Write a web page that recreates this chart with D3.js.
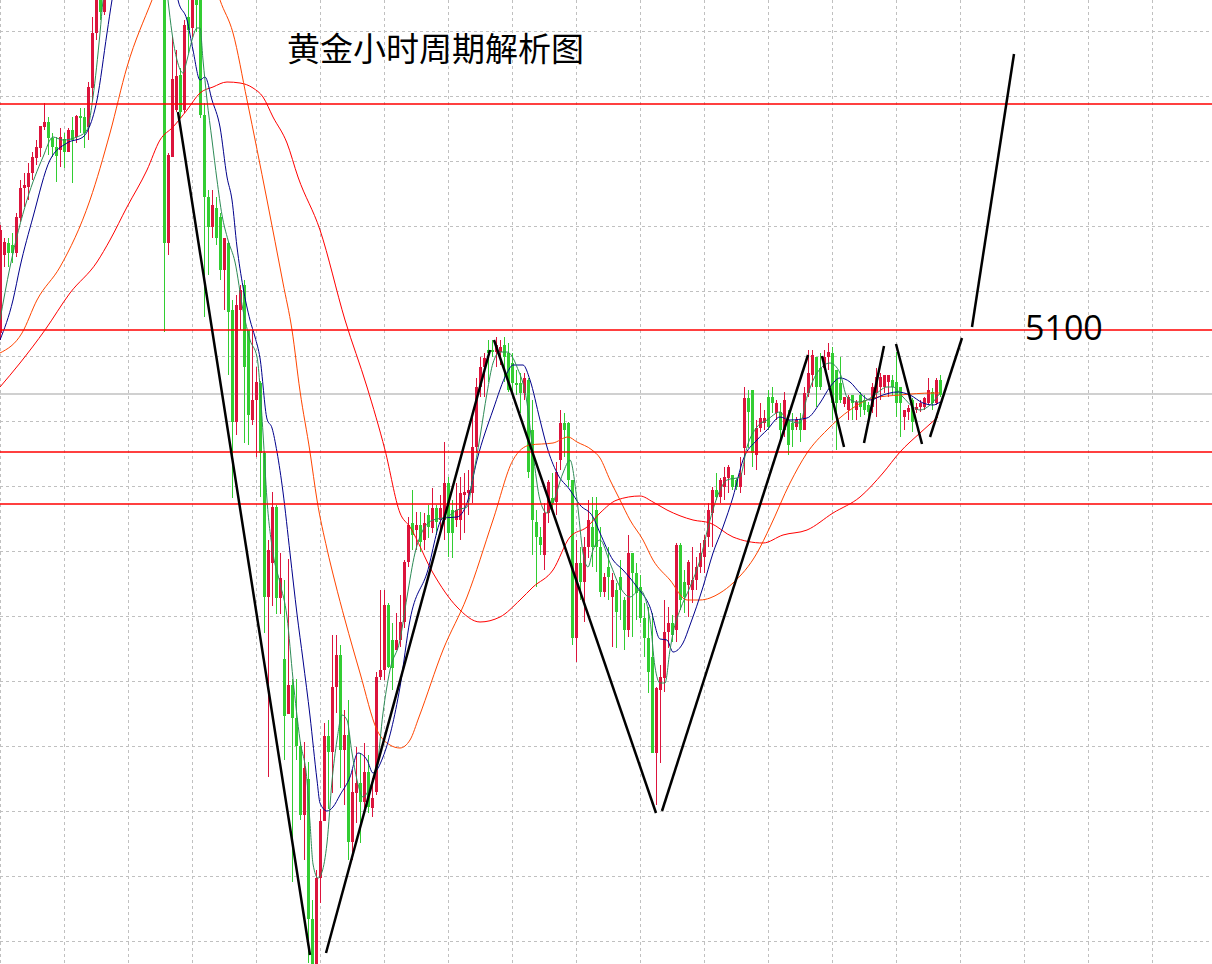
<!DOCTYPE html>
<html>
<head>
<meta charset="utf-8">
<script src="https://cdn.jsdelivr.net/npm/d3@7"></script>
<style>
html,body{margin:0;padding:0;background:#fff;overflow:hidden;}
svg{display:block;}
</style>
</head>
<body>
<svg id="chart" width="1212" height="964"></svg>
<script>
// ---------------- DATA ----------------
const title = "黄金小时周期解析图";
const levelLabel = "5100";

// hourly candles (index 0..235)
const opens = [5097,5175,5187,5185,5177,5212,5242,5243,5257,5272,5282,5303,5308,5292,5283,5280,5291,5278,5300,5293,
5314,5313,5303,5342,5397,5450,5418,5470,5510,5540,5520,5560,5590,5570,5610,5580,5550,5580,5540,5510,
5530,5490,5187,5273,5320,5355,5320,5413,5402,5435,5430,5315,5233,5203,5222,5213,5160,5187,5120,5008,
5120,5145,5100,5010,5030,5047,4977,4833,4867,4923,4832,4771,4716,4745,4712,4684,4615,4651,4511,4445,
4552,4609,4694,4678,4743,4775,4680,4695,4588,4637,4647,4628,4658,4622,4638,4753,4760,4825,4790,4780,
4790,4808,4868,4907,4900,4905,4890,4915,4902,4922,4910,4910,4947,4920,4910,4910,4935,4937,4937,4983,
5043,5063,5080,5080,5078,5078,5085,5077,5067,5047,5047,5037,5050,5000,4908,4893,4875,4917,4932,4928,
4970,5007,5007,4950,4792,4867,4848,4883,4903,4920,4883,4838,4863,4833,4840,4853,4830,4800,4877,4857,
4843,4812,4792,4773,4677,4740,4752,4798,4807,4800,4885,4848,4845,4840,4850,4863,4873,4893,4917,4940,
4933,4943,4952,4955,4950,4943,4982,5032,5040,4975,5002,5007,5033,5033,5017,5018,5000,5010,5007,5003,
5010,5000,5037,5055,5073,5062,5062,5073,5077,5060,5047,5026,5020,5035,5020,5035,5030,5025,5023,5037,
5043,5043,5048,5050,5048,5043,5013,5018,5030,5020,5023,5023,5027,5038,5027,5050];
const highs = [5205,5192,5192,5197,5217,5250,5257,5267,5278,5290,5304,5327,5313,5297,5293,5302,5297,5302,5313,5315,
5322,5322,5348,5413,5460,5465,5480,5520,5555,5560,5570,5605,5610,5625,5630,5600,5595,5590,5555,5545,
5540,5500,5277,5393,5380,5362,5410,5435,5450,5450,5440,5327,5240,5240,5233,5217,5192,5188,5130,5135,
5145,5150,5100,5100,5063,5049,4978,4890,4938,4925,4877,4850,4871,4751,4751,4688,4688,4668,4530,4560,
4621,4707,4710,4795,4795,4785,4720,4730,4660,4683,4677,4687,4675,4652,4758,4840,4840,4827,4807,4817,
4835,4870,4913,4940,4918,4918,4917,4925,4942,4925,4935,4988,4953,4930,4947,4953,4957,4960,5013,5052,
5073,5077,5090,5090,5093,5090,5093,5087,5077,5060,5057,5057,5052,5030,4920,4903,4927,4950,4957,4968,
5020,5017,5008,4950,4890,4883,4893,4930,4933,4933,4903,4857,4883,4857,4847,4870,4833,4895,4877,4867,
4855,4827,4823,4817,4743,4765,4830,4823,4815,4887,4887,4860,4870,4883,4873,4887,4895,4927,4943,4957,
4952,4963,4965,4955,4952,4973,5043,5040,5040,5010,5027,5020,5040,5043,5030,5027,5038,5020,5017,5013,
5017,5043,5080,5080,5073,5077,5080,5087,5083,5060,5073,5033,5035,5035,5030,5038,5035,5028,5047,5062,
5057,5055,5055,5055,5078,5043,5020,5025,5032,5027,5030,5033,5052,5042,5052,5055];
const lows = [5090,5163,5163,5167,5173,5208,5223,5230,5250,5265,5273,5300,5275,5273,5248,5263,5262,5278,5247,5287,
5297,5282,5290,5330,5390,5410,5415,5465,5500,5510,5515,5550,5560,5560,5570,5540,5540,5530,5500,5500,
5480,5098,5175,5273,5318,5312,5317,5377,5393,5398,5312,5113,5155,5192,5185,5150,5120,5055,4932,4995,
5100,4987,4985,5005,4973,4933,4797,4653,4824,4816,4816,4670,4716,4548,4670,4610,4570,4467,4440,4435,
4527,4609,4621,4637,4717,4642,4625,4570,4570,4607,4587,4622,4617,4613,4635,4750,4750,4762,4740,4780,
4783,4802,4863,4880,4880,4878,4880,4892,4897,4895,4900,4890,4873,4872,4903,4890,4897,4915,4927,4977,
5033,5033,5048,5073,5063,5065,5048,5038,5033,5035,5017,5030,4952,4875,4843,4875,4860,4907,4917,4915,
4960,4973,4943,4785,4768,4830,4808,4872,4863,4858,4833,4833,4830,4783,4782,4810,4780,4793,4793,4810,
4807,4773,4737,4677,4625,4667,4738,4782,4788,4788,4820,4817,4813,4827,4840,4857,4857,4883,4883,4930,
4927,4930,4937,4940,4940,4937,4955,4982,4963,4960,4998,5000,5000,5017,5010,4990,4993,4975,4983,5000,
4988,5000,5033,5043,5023,5040,5060,5060,5010,4980,5027,5023,5010,5010,5010,5013,5015,5013,5017,5013,
5030,5037,5033,5035,5013,4993,5000,5010,4998,5017,5018,5020,5025,5020,5025,5033];
const closes = [5200,5188,5177,5177,5213,5242,5245,5257,5273,5283,5304,5308,5292,5283,5274,5293,5278,5300,5290,5314,
5312,5297,5343,5397,5450,5418,5470,5510,5540,5520,5560,5590,5570,5610,5580,5550,5580,5540,5510,5530,
5490,5187,5275,5351,5354,5318,5405,5400,5435,5425,5315,5233,5203,5225,5192,5160,5192,5118,5008,5125,
5140,5063,5015,5030,5048,4977,4833,4880,4923,4832,4852,4714,4745,4712,4684,4615,4662,4511,4445,4552,
4609,4694,4678,4743,4775,4680,4695,4588,4638,4647,4628,4658,4623,4632,4753,4760,4825,4763,4762,4790,
4808,4868,4905,4895,4905,4888,4907,4903,4922,4908,4922,4947,4897,4897,4920,4937,4938,4940,4983,5043,
5063,5072,5077,5078,5085,5083,5073,5040,5047,5045,5037,5052,4958,4910,4893,4885,4917,4948,4927,4958,
5007,5000,4950,4792,4867,4848,4883,4910,4883,4883,4838,4853,4853,4850,4818,4840,4800,4877,4857,4837,
4812,4792,4758,4677,4742,4753,4798,4807,4795,4885,4830,4833,4868,4850,4863,4877,4890,4920,4940,4933,
4950,4953,4963,4943,4943,4957,5032,5018,4977,5002,5012,5012,5003,5027,5027,5000,5030,4985,5000,5010,
5000,5037,5057,5075,5043,5043,5073,5078,5027,5027,5030,5033,5033,5027,5028,5023,5020,5018,5043,5053,
5053,5055,5055,5043,5027,5027,5020,5022,5008,5023,5027,5032,5040,5027,5050,5035];

// moving averages, [candle index, price]
const maFast = [[0,5110],[2.5,5163],[6.75,5230],[10.75,5273],[13.25,5293],[15.75,5290],[19.25,5293],[21.75,5300],[23.25,5333],[25,5397],[25.75,5430],
[27,5470],[30,5530],[34,5575],[38,5540],[41,5470],[42,5430],[43,5397],[44.25,5370],[45.75,5357],[46.75,5370],[48,5390],[49.25,5402],[50,5402],
[50.75,5370],[51.75,5330],[53,5290],[54.25,5250],[55.5,5215],[57,5190],[58.75,5168],[60.75,5120],[62.5,5090],[64.25,5073],[65.75,4997],
[66.75,4930],[68.25,4877],[70,4847],[71.75,4813],[73.25,4751],[75,4690],[76.75,4649],[77.5,4607],[78.25,4566],[79.5,4552],[80.5,4558],
[81.75,4587],[83,4649],[84.25,4690],[85.5,4715],[86.75,4710],[88,4677],[89.25,4650],[90.75,4633],[92.5,4643],[94.25,4663],[95.75,4717],
[97.5,4760],[100,4790],[101.75,4833],[103.75,4877],[105.75,4900],[108.25,4910],[111.75,4913],[114.25,4920],[116.75,4923],[118.25,4953],
[120,4993],[121.75,5037],[123.25,5067],[125,5078],[126.75,5078],[129.25,5063],[131.75,5027],[133.25,4977],[135,4930],[136.75,4917],
[138.25,4927],[140.75,4957],[142.5,4970],[144.25,4930],[145.75,4877],[147,4863],[148.25,4880],[150,4890],[152.5,4867],[155,4843],
[157.5,4833],[160,4840],[162.5,4810],[163.75,4763],[165,4747],[166.25,4747],[167.5,4780],[168.25,4797],[170,4820],[172.5,4843],
[175,4870],[177.5,4910],[180,4940],[181.75,4950],[185,4953],[186.75,4983],[189.25,5003],[191.75,5010],[195,5018],[196.75,5010],
[200,5007],[201.75,5033],[204.25,5057],[207.5,5067],[210,5057],[211.75,5033],[214.25,5028],[216.75,5030],[219.25,5037],[221.75,5043],
[223.25,5043],[225.75,5033],[228.25,5023],[230,5020],[232.5,5025],[235,5037]];
const maMid = [[0,5090],[3.25,5130],[5,5163],[8.25,5213],[12.5,5270],[16.75,5287],[20.75,5293],[22,5300],[24.25,5330],[26.75,5397],[28,5430],
[32,5500],[36,5540],[40,5520],[43,5470],[44.5,5430],[46.75,5410],[48.25,5380],[50,5350],[51.25,5353],[53,5330],[55,5303],[56.75,5253],
[58,5230],[59.25,5183],[60.75,5143],[62.5,5110],[63.75,5093],[65,5072],[66.75,5011],[68,5002],[69.25,4978],[70.75,4938],[72.5,4877],
[74.25,4816],[75.75,4770],[77.5,4714],[79.25,4650],[80,4627],[81.75,4619],[83.25,4623],[85,4635],[87.5,4653],[89.5,4677],[91.75,4670],
[93.25,4657],[95.75,4673],[100,4743],[102.5,4810],[106.75,4857],[110.75,4912],[114.25,4913],[116.75,4927],[119.25,4970],[123.25,5020],
[126.75,5057],[128.25,5065],[130.75,5065],[132.5,5050],[135,5010],[136.75,4983],[139.25,4957],[142.5,4940],[145,4925],[148.25,4913],
[150,4897],[153.25,4870],[155.75,4860],[159.25,4843],[162.5,4823],[165,4791],[166.75,4790],[168.25,4778],[170.75,4787],[172.5,4805],
[175.75,4843],[178.25,4877],[180.75,4903],[183.25,4933],[185.75,4970],[189.25,4990],[191.75,5000],[195,5013],[197.5,5010],[201.75,5012],
[205,5027],[207.5,5043],[210,5052],[212.5,5048],[215,5037],[217.5,5030],[220.75,5035],[224.25,5038],[227.5,5035],[230.75,5027],
[233.25,5025],[235,5028]];
const maSlow = [[0,5077],[5.5,5097],[9.25,5130],[15,5163],[22.5,5230],[27.5,5297],[31.75,5363],[38,5430],[42,5470],[47,5490],[52,5470],
[55,5430],[58.25,5397],[61.75,5330],[66.75,5230],[70.75,5147],[73,5100],[75,5039],[77.5,4978],[79.25,4930],[81.75,4881],[83.75,4848],
[86.25,4810],[90,4757],[94.25,4700],[97.5,4685],[100,4682],[102.5,4690],[104.75,4713],[110.75,4780],[116.75,4833],[123.25,4910],
[128.25,4970],[132.5,4985],[138.25,4987],[142,4993],[144.25,4988],[148,4980],[150,4972],[152.5,4950],[155,4930],[157.5,4910],
[160.75,4890],[163.25,4870],[167.5,4850],[171.75,4830],[175,4830],[177.5,4832],[180,4837],[183.25,4847],[189.25,4877],[192.5,4903],
[197.5,4947],[201.75,4977],[206.75,5000],[212.5,5020],[218.25,5032],[225,5035],[233.25,5037],[235,5037]];
const maLong = [[0,5043],[5,5067],[11.25,5100],[17.5,5137],[24.25,5168],[27.5,5190],[31.75,5223],[36.75,5260],[40,5290],[43.25,5303],
[46.75,5320],[50,5337],[53.25,5343],[56.75,5348],[60,5347],[63.25,5342],[65.75,5333],[68.25,5313],[71.75,5287],[74.5,5253],[80,5200],
[86.25,5110],[91.75,5043],[96.25,4980],[100,4917],[102.5,4903],[108.25,4857],[114.25,4823],[120,4808],[125,4813],[130,4830],
[133.25,4843],[138.25,4860],[142.5,4893],[146.75,4903],[150,4917],[154.25,4930],[160,4934],[163.25,4928],[166.75,4920],[173.25,4910],
[177.5,4907],[183.25,4893],[190.75,4887],[195.75,4895],[201.75,4900],[208.25,4917],[215,4933],[220.75,4957],[225,4978],[230,4997],
[234.5,5013]];

// horizontal levels
const redLevels = [5326, 5100, 4978, 4926];
const lastPrice = 5036;
const gridPrices = [5399,5334,5269,5204,5139,5074,5009,4944,4879,4814,4749,4684,4619,4554,4489];
const gridIndices = [0,16,32,48,64,80,96,112,128,144,160,176,192,208,224,240,256,272,288];

// hand-drawn wave lines: [startIndex, startPrice, endIndex, endPrice]
const waveLines = [
  [44.5,5318,77.5,4475],
  [81.5,4477,122.5,5080],
  [123.5,5090,164,4617],
  [165.5,4619,202,5075],
  [205.5,5074,211,4983],
  [216,4987,221,5084],
  [224,5086,230.5,4986],
  [232.5,4993,240.5,5092],
  [243,5103,253.5,5376]
];

// ---------------- CHART ----------------
const W = 1212, H = 964;
const svg = d3.select("#chart");
const x = d3.scaleLinear().domain([0, 303]).range([0, W]);
const y = d3.scaleLinear().domain([4466, 5430]).range([H, 0]);

svg.append("rect").attr("width", W).attr("height", H).attr("fill", "#fff");

svg.append("defs").append("clipPath").attr("id","clip")
  .append("rect").attr("width", W).attr("height", H);

const root = svg.append("g").attr("clip-path","url(#clip)");

// grid
const grid = root.append("g").attr("stroke", "#c0c0c0").attr("stroke-width", 1)
  .attr("stroke-dasharray", "3,3").attr("shape-rendering","crispEdges");
grid.selectAll("line.h").data(gridPrices).join("line").attr("class","h")
  .attr("x1", 0).attr("x2", W)
  .attr("y1", d => Math.round(y(d)) + 0.5).attr("y2", d => Math.round(y(d)) + 0.5);
grid.selectAll("line.v").data(gridIndices).join("line").attr("class","v")
  .attr("y1", 0).attr("y2", H)
  .attr("x1", d => Math.round(x(d)) + 0.5).attr("x2", d => Math.round(x(d)) + 0.5);

// last price line
root.append("line")
  .attr("x1", 0).attr("x2", W)
  .attr("y1", y(lastPrice)).attr("y2", y(lastPrice))
  .attr("stroke", "#c0c0c0").attr("stroke-width", 1.5);

// candles
const candles = opens.map((o, i) => ({i, o, h: highs[i], l: lows[i], c: closes[i]}));
const upCol = "#dc143c", downCol = "#32cd32";
const cg = root.append("g").attr("shape-rendering","crispEdges");
cg.selectAll("line.wick").data(candles).join("line").attr("class","wick")
  .attr("x1", d => Math.round(x(d.i)) + 0.5).attr("x2", d => Math.round(x(d.i)) + 0.5)
  .attr("y1", d => y(d.h)).attr("y2", d => y(d.l))
  .attr("stroke", d => d.c >= d.o ? upCol : downCol).attr("stroke-width", 1);
cg.selectAll("rect.body").data(candles).join("rect").attr("class","body")
  .attr("x", d => Math.round(x(d.i)) - 1)
  .attr("width", 3)
  .attr("y", d => y(Math.max(d.o, d.c)))
  .attr("height", d => Math.max(1, Math.abs(y(d.o) - y(d.c))))
  .attr("fill", d => d.c >= d.o ? upCol : downCol);

// moving averages
const line = d3.line().x(d => x(d[0])).y(d => y(d[1])).curve(d3.curveMonotoneX);
const mas = [
  {data: maLong, color: "#ff0000"},
  {data: maSlow, color: "#ff4500"},
  {data: maMid, color: "#00008b"},
  {data: maFast, color: "#2e8b57"}
];
root.selectAll("path.ma").data(mas).join("path").attr("class","ma")
  .attr("d", d => line(d.data)).attr("fill","none")
  .attr("stroke", d => d.color).attr("stroke-width", 1);

// red horizontal levels
root.selectAll("line.lvl").data(redLevels).join("line").attr("class","lvl")
  .attr("x1", 0).attr("x2", W)
  .attr("y1", d => y(d)).attr("y2", d => y(d))
  .attr("stroke", "#ff0000").attr("stroke-width", 1.5);

// wave lines
root.selectAll("line.wave").data(waveLines).join("line").attr("class","wave")
  .attr("x1", d => x(d[0])).attr("y1", d => y(d[1]))
  .attr("x2", d => x(d[2])).attr("y2", d => y(d[3]))
  .attr("stroke", "#000").attr("stroke-width", 2.5);

// texts
svg.append("text").attr("x", 287).attr("y", 61)
  .attr("font-family", "'Noto Sans CJK SC', sans-serif").attr("font-size", 33)
  .attr("fill", "#000").text(title);
svg.append("text").attr("x", 1025).attr("y", y(5100) + 10)
  .attr("font-family", "'Open Sans', sans-serif").attr("font-size", 34)
  .attr("fill", "#000").text(levelLabel);
</script>
</body>
</html>
